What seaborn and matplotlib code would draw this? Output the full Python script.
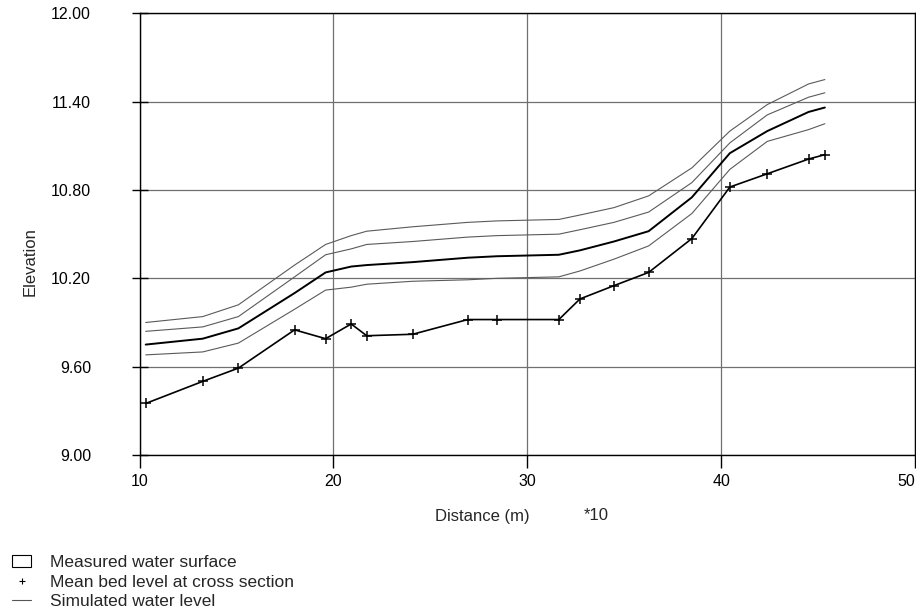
import matplotlib
matplotlib.use("Agg")
import matplotlib.pyplot as plt
import seaborn as sns
import numpy as np
from matplotlib.lines import Line2D
from matplotlib.patches import Patch

# Distance stations (units of 10 m)
distance = [10.32, 13.26, 15.10, 18.00, 19.60, 20.92, 21.72, 24.09, 26.93, 28.45,
            31.63, 32.72, 34.47, 36.26, 38.49, 40.45, 42.38, 44.51, 45.35]

# Mean bed level at cross section
bed_level = [9.35, 9.50, 9.59, 9.85, 9.79, 9.89, 9.81, 9.82, 9.92, 9.92,
             9.92, 10.06, 10.15, 10.24, 10.47, 10.82, 10.91, 11.01, 11.04]

# Simulated water levels
sim_upper2 = [9.90, 9.94, 10.02, 10.29, 10.43, 10.49, 10.52, 10.55, 10.58, 10.59,
              10.60, 10.63, 10.68, 10.76, 10.95, 11.20, 11.38, 11.52, 11.55]
sim_upper1 = [9.84, 9.87, 9.94, 10.21, 10.36, 10.40, 10.43, 10.45, 10.48, 10.49,
              10.50, 10.53, 10.58, 10.65, 10.85, 11.12, 11.31, 11.43, 11.46]
sim_main = [9.75, 9.79, 9.86, 10.10, 10.24, 10.28, 10.29, 10.31, 10.34, 10.35,
            10.36, 10.39, 10.45, 10.52, 10.75, 11.05, 11.20, 11.33, 11.36]
sim_lower = [9.68, 9.70, 9.76, 9.99, 10.12, 10.14, 10.16, 10.18, 10.19, 10.20,
             10.21, 10.25, 10.33, 10.42, 10.64, 10.94, 11.13, 11.21, 11.25]

x_ticks = [10, 20, 30, 40, 50]
y_ticks = [9.00, 9.60, 10.20, 10.80, 11.40, 12.00]

sns.set_theme(style="white")
plt.rcParams['font.family'] = ['Liberation Sans', 'DejaVu Sans']

W, H = 916, 612
fig = plt.figure(figsize=(W / 100, H / 100), dpi=100)
ax = fig.add_axes([139.5 / W, 1 - 455 / H, (915 - 139.5) / W, (455 - 13.3) / H])

for s in ax.spines.values():
    s.set_color('black')
    s.set_linewidth(1.0)

ax.set_xlim(10, 50)
ax.set_ylim(9.0, 12.0)
ax.set_xticks(x_ticks)
ax.set_yticks(y_ticks)
ax.set_xticklabels([str(v) for v in x_ticks])
ax.set_yticklabels([f"{v:.2f}" for v in y_ticks])
ax.grid(True, color='#707070', linewidth=0.9)
ax.set_axisbelow(True)
ax.tick_params(axis='x', direction='out', length=9, width=1, color='black',
               labelsize=11.5, labelcolor='black', pad=5, bottom=True)
ax.tick_params(axis='y', direction='inout', length=12, width=1, color='black',
               labelsize=11.5, labelcolor='black', pad=29, left=True)
ax.get_xticklabels()[-1].set_horizontalalignment('right')

thin = dict(color='#5a5a5a', linewidth=0.8, estimator=None, sort=False, ax=ax, legend=False)
sns.lineplot(x=distance, y=sim_upper2, **thin)
sns.lineplot(x=distance, y=sim_upper1, **thin)
sns.lineplot(x=distance, y=sim_lower, **thin)
sns.lineplot(x=distance, y=sim_main, color='black', linewidth=1.4, estimator=None,
             sort=False, ax=ax, legend=False)
sns.lineplot(x=distance, y=bed_level, color='black', linewidth=1.2, marker='+',
             markersize=7, markeredgewidth=1.1, markeredgecolor='black',
             estimator=None, sort=False, ax=ax, legend=False)

ax.set_xlabel('')
ax.set_ylabel('')
fig.text(30 / W, 1 - 262 / H, 'Elevation', rotation=90, ha='center', va='center', fontsize=12)

fig.text(482 / W, 1 - 516 / H, 'Distance (m)', ha='center', va='center', fontsize=12)
fig.text(596 / W, 1 - 516 / H, '*10', ha='center', va='center', fontsize=12)

handles = [
    Patch(facecolor='white', edgecolor='black', linewidth=0.8),
    Line2D([], [], color='black', marker='+', linestyle='none', markersize=5, markeredgewidth=0.8),
    Line2D([], [], color='#555555', linewidth=0.8),
]
labels = ['Measured water surface', 'Mean bed level at cross section', 'Simulated water level']
fig.legend(handles, labels, loc='upper left', bbox_to_anchor=(12 / W, 1 - 555 / H),
           frameon=False, fontsize=12.5, handlelength=1.1, handleheight=0.7,
           handletextpad=1.1, labelspacing=0.25, borderpad=0, borderaxespad=0)

fig.savefig('out.png', dpi=100)
